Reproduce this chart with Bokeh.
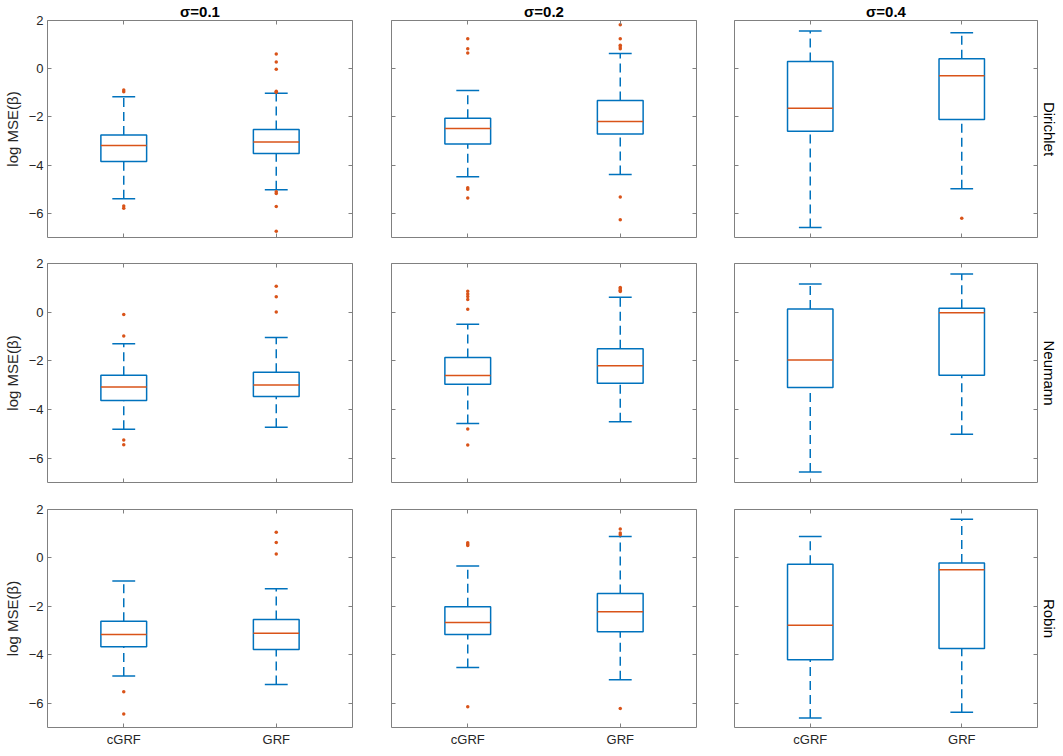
from bokeh.plotting import figure
from bokeh.layouts import column, row
from bokeh.models import FixedTicker, LinearAxis, Title, Range1d, ColumnDataSource
from bokeh.embed import file_html
from bokeh.resources import INLINE

categories = ["cGRF", "GRF"]
sigma_titles = ["σ=0.1", "σ=0.2", "σ=0.4"]
conditions = ["Dirichlet", "Neumann", "Robin"]
y_ticks = [-6, -4, -2, 0, 2]
positions = [1, 2]

# indexing: [condition][sigma][category]
whisker_low = [
    [[-5.39, -5.02], [-4.48, -4.39], [-6.59, -4.98]],
    [[-4.81, -4.73], [-4.58, -4.50], [-6.57, -5.02]],
    [[-4.87, -5.22], [-4.52, -5.03], [-6.61, -6.37]],
]
q1 = [
    [[-3.85, -3.52], [-3.12, -2.71], [-2.59, -2.11]],
    [[-3.63, -3.47], [-2.96, -2.92], [-3.10, -2.59]],
    [[-3.67, -3.78], [-3.16, -3.05], [-4.20, -3.74]],
]
median = [
    [[-3.18, -3.04], [-2.48, -2.19], [-1.64, -0.29]],
    [[-3.08, -2.99], [-2.60, -2.20], [-1.97, -0.02]],
    [[-3.16, -3.11], [-2.66, -2.22], [-2.78, -0.49]],
]
q3 = [
    [[-2.75, -2.52], [-2.05, -1.32], [0.30, 0.41]],
    [[-2.59, -2.47], [-1.86, -1.50], [0.13, 0.16]],
    [[-2.61, -2.54], [-2.01, -1.47], [-0.26, -0.21]],
]
whisker_high = [
    [[-1.16, -1.02], [-0.90, 0.63], [1.56, 1.49]],
    [[-1.30, -1.04], [-0.50, 0.61], [1.16, 1.57]],
    [[-0.95, -1.27], [-0.33, 0.89], [0.89, 1.60]],
]
outliers = [
    [[[-0.88, -0.95, -5.69, -5.79], [0.61, 0.28, -0.02, -0.93, -0.98, -5.10, -5.18, -5.71, -6.74]],
     [[1.24, 0.83, 0.65, -4.94, -5.00, -5.36], [1.82, 1.24, 0.97, 0.90, 0.83, -5.32, -6.26]],
     [[], [-6.20]]],
    [[[-0.10, -0.98, -5.25, -5.45], [1.07, 0.63, 0.01]],
     [[0.86, 0.75, 0.64, 0.52, 0.12, -4.80, -5.46], [1.01, 0.96, 0.90, 0.85]],
     [[], []]],
    [[[-5.52, -6.44], [1.06, 0.64, 0.16]],
     [[0.63, 0.57, 0.51, -6.14], [1.20, 1.03, 0.96, -6.22]],
     [[], []]],
]

BLUE = "#0072BD"
RED = "#D95319"
AXC = "#808080"
TXT = "#262626"
FONT = "Liberation Sans"
BOX_HALF = 0.15
CAP_HALF = 0.075

col_borders = [(47, 19), (20, 19), (19, 24)]
row_borders = [(18, 13), (13, 13), (14, 28)]
row_frame_h = [219, 219, 218]
FW = 305


def tick_only_axis(axis, ticks):
    axis.ticker = FixedTicker(ticks=[], minor_ticks=ticks)
    axis.axis_line_color = None
    axis.major_tick_line_color = None
    axis.minor_tick_in = 4
    axis.minor_tick_out = 0
    axis.minor_tick_line_color = AXC
    axis.major_label_standoff = 0


def make_panel(r, c):
    L, R = col_borders[c]
    T, B = row_borders[r]
    FH = row_frame_h[r]
    p = figure(width=L + FW + R, height=T + FH + B, output_backend="svg",
               toolbar_location=None, title=None,
               x_range=Range1d(0.5, 2.5), y_range=Range1d(-7, 2),
               min_border_left=L, min_border_right=R,
               min_border_top=T, min_border_bottom=B)
    p.grid.visible = False
    p.outline_line_color = AXC
    p.outline_line_width = 1
    p.background_fill_color = "white"
    p.border_fill_color = "white"

    xa = p.xaxis[0]
    ya = p.yaxis[0]
    for ax in (xa, ya):
        ax.axis_line_color = None
        ax.major_tick_in = 4
        ax.major_tick_out = 0
        ax.minor_tick_line_color = None
        ax.major_tick_line_color = AXC
        ax.major_label_text_font = FONT
        ax.major_label_text_font_size = "13px"
        ax.major_label_text_color = TXT
        ax.major_label_standoff = 4
    if c == 0:
        ya.ticker = FixedTicker(ticks=y_ticks)
        ya.axis_label = "log MSE(β)"
        ya.axis_label_text_font = FONT
        ya.axis_label_text_font_size = "15px"
        ya.axis_label_text_font_style = "normal"
        ya.axis_label_text_color = TXT
        ya.axis_label_standoff = 5
    else:
        tick_only_axis(ya, y_ticks)
    if r == 2:
        xa.ticker = FixedTicker(ticks=positions)
        xa.major_label_overrides = {1: categories[0], 2: categories[1]}
        xa.major_label_standoff = 4
    else:
        tick_only_axis(xa, positions)

    ra = LinearAxis()
    tick_only_axis(ra, y_ticks)
    p.add_layout(ra, "right")
    ta = LinearAxis()
    tick_only_axis(ta, positions)
    p.add_layout(ta, "above")

    if r == 0:
        p.add_layout(Title(text=sigma_titles[c], align="center", text_font=FONT,
                           text_font_size="15px", text_font_style="bold",
                           text_color="black", standoff=1), "above")
    if c == 2:
        p.add_layout(Title(text=conditions[r], align="center", text_font=FONT,
                           text_font_size="15px", text_font_style="normal",
                           text_color="black", standoff=7), "right")

    lo = whisker_low[r][c]
    a = q1[r][c]
    m = median[r][c]
    b = q3[r][c]
    hi = whisker_high[r][c]
    src = ColumnDataSource(dict(
        x=positions,
        left=[x - BOX_HALF for x in positions],
        right=[x + BOX_HALF for x in positions],
        capl=[x - CAP_HALF for x in positions],
        capr=[x + CAP_HALF for x in positions],
        lo=lo, q1=a, med=m, q3=b, hi=hi))
    p.segment(x0="x", y0="q3", x1="x", y1="hi", source=src, line_color=BLUE,
              line_width=1.5, line_dash="9 5")
    p.segment(x0="x", y0="lo", x1="x", y1="q1", source=src, line_color=BLUE,
              line_width=1.5, line_dash="9 5")
    p.segment(x0="capl", y0="hi", x1="capr", y1="hi", source=src, line_color=BLUE, line_width=1.5)
    p.segment(x0="capl", y0="lo", x1="capr", y1="lo", source=src, line_color=BLUE, line_width=1.5)
    p.quad(left="left", right="right", bottom="q1", top="q3", source=src,
           fill_color=None, line_color=BLUE, line_width=1.5)
    p.segment(x0="left", y0="med", x1="right", y1="med", source=src, line_color=RED, line_width=1.5)

    ox, oy = [], []
    for k, vals in enumerate(outliers[r][c]):
        ox += [positions[k]] * len(vals)
        oy += vals
    p.scatter(x=ox, y=oy, size=3.5, marker="circle", fill_color=RED, line_color=None)
    return p


rows = []
for r in range(3):
    rows.append(row([make_panel(r, c) for c in range(3)], spacing=0))
layout = column(rows, spacing=0)

open("out.html", "w").write(file_html(layout, INLINE))
